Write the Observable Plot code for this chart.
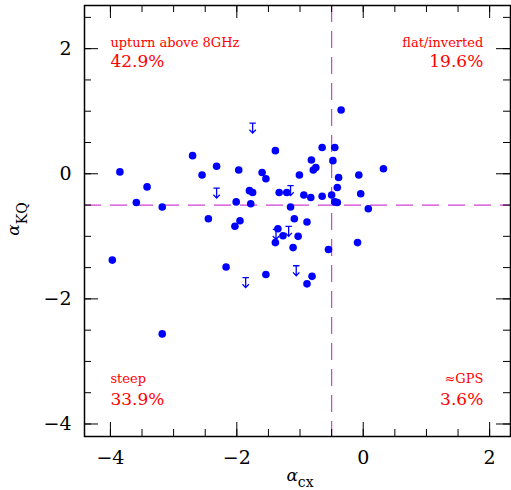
<!DOCTYPE html>
<html>
<head>
<meta charset="utf-8">
<script src="https://cdn.jsdelivr.net/npm/d3@7"></script>
<script src="https://cdn.jsdelivr.net/npm/@observablehq/plot@0.6"></script>
<style>
  html, body { margin: 0; padding: 0; background: #fff; }
</style>
</head>
<body>
<div id="chart"></div>
<script>
// Detected sources: alpha_cx (x) vs alpha_KQ (y)
const alphaCX = [
  -3.85, -3.42, -3.59, -3.18, -3.97, -2.70, -2.55, -2.32, -2.45, -2.03,
  -1.95, -1.97, -2.01, -1.78, -1.80, -1.75, -1.60, -1.54, -1.39, -1.33,
  -1.21, -1.15, -1.09, -1.01, -2.17, -1.54, -1.35, -1.39, -1.27, -1.11,
  -1.03, -3.18,
  -0.35, -0.65, -0.45, -0.82, -0.48, -0.79, -0.75, -0.39, -0.07, 0.32,
  -0.41, -0.04, -0.94, -0.83, -0.65, -0.50, -0.45, -0.41, 0.08, -0.89,
  -0.55, -0.09, -0.81, -0.89
];
const alphaKQ = [
  0.03, -0.21, -0.46, -0.53, -1.38, 0.29, -0.02, 0.12, -0.72, -0.84,
  -0.75, 0.06, -0.45, -0.48, -0.27, -0.30, 0.02, -0.08, 0.37, -0.30,
  -0.30, -0.53, -0.72, -0.02, -1.49, -1.61, -0.88, -1.10, -0.99, -1.18,
  -1.00, -2.56,
  1.02, 0.42, 0.42, 0.22, 0.21, 0.06, 0.10, -0.06, -0.02, 0.08,
  -0.22, -0.32, -0.34, -0.38, -0.36, -0.34, -0.45, -0.46, -0.56, -0.77,
  -1.21, -1.10, -1.64, -1.76
];

// Upper limits in alpha_KQ
const limitCX = [-2.32, -1.75, -1.15, -1.38, -1.18, -1.86, -1.06];
const limitKQ = [-0.31, 0.73, -0.27, -0.97, -0.92, -1.74, -1.55];

// Dividing thresholds
const thresholdCX = [-0.5];
const thresholdKQ = [-0.5];

// Quadrant annotations
const quadNames = ["upturn above 8GHz", "flat/inverted", "steep", "\u2248GPS"];
const quadPercents = ["42.9%", "19.6%", "33.9%", "3.6%"];

// Axis ticks
const majorTicksX = [-4, -2, 0, 2];
const minorTicksX = [-4.0, -3.5, -3.0, -2.5, -2.0, -1.5, -1.0, -0.5, 0, 0.5, 1.0, 1.5, 2.0];
const majorTicksY = [-4, -2, 0, 2];
const minorTicksY = [-4.0, -3.5, -3.0, -2.5, -2.0, -1.5, -1.0, -0.5, 0, 0.5, 1.0, 1.5, 2.0, 2.5];

const points = alphaCX.map((x, i) => ({x, y: alphaKQ[i]}));
const limits = limitCX.map((x, i) => ({x, y: limitKQ[i]}));

const W = 511, H = 490;
const mL = 84, mR = 1, mT = 5, mB = 54;
const pw = W - mL - mR, ph = H - mT - mB;

const arrowSymbol = {
  draw(ctx) {
    ctx.moveTo(-3.2, -5); ctx.lineTo(3.2, -5);
    ctx.moveTo(0, -5); ctx.lineTo(0, 5);
    ctx.moveTo(-3.2, 1.6); ctx.lineTo(0, 5); ctx.lineTo(3.2, 1.6);
  }
};

const serif = "DejaVu Serif";
const lineColor = "#d040d0";
const fmt = d => d < 0 ? "\u2212" + (-d) : String(d);

const plot = Plot.plot({
  width: W, height: H,
  marginLeft: mL, marginRight: mR, marginTop: mT, marginBottom: mB,
  style: {fontFamily: serif, background: "white"},
  x: {domain: [-4.41, 2.33], axis: null},
  y: {domain: [-4.2, 2.69], axis: null},
  marks: [
    // thresholds
    Plot.ruleX(thresholdCX, {stroke: lineColor, strokeWidth: 1.2, strokeDasharray: "17,9"}),
    Plot.ruleY(thresholdKQ, {stroke: lineColor, strokeWidth: 1.2, strokeDasharray: "17,9"}),
    // ticks bottom/top
    Plot.tickX(minorTicksX, {x: d => d, insetTop: ph - 7, stroke: "black"}),
    Plot.tickX(minorTicksX, {x: d => d, insetBottom: ph - 7, stroke: "black"}),
    Plot.tickX(majorTicksX, {x: d => d, insetTop: ph - 14, stroke: "black"}),
    Plot.tickX(majorTicksX, {x: d => d, insetBottom: ph - 13, stroke: "black"}),
    // ticks left/right
    Plot.tickY(minorTicksY, {y: d => d, insetRight: pw - 7, stroke: "black"}),
    Plot.tickY(minorTicksY, {y: d => d, insetLeft: pw - 7, stroke: "black"}),
    Plot.tickY(majorTicksY, {y: d => d, insetRight: pw - 14, stroke: "black"}),
    Plot.tickY(majorTicksY, {y: d => d, insetLeft: pw - 14, stroke: "black"}),
    // tick labels
    Plot.axisX({anchor: "bottom", ticks: majorTicksX, tickFormat: fmt, tickSize: 0, tickPadding: 14, fontSize: 19, label: null}),
    Plot.axisY({anchor: "left", ticks: majorTicksY, tickFormat: fmt, tickSize: 0, tickPadding: 13, fontSize: 19, label: null}),
    // data
    Plot.dot(points, {x: "x", y: "y", r: 3.8, fill: "#0000ff", stroke: "none"}),
    Plot.dot(limits, {x: "x", y: "y", symbol: arrowSymbol, r: 5, stroke: "#0000ff", fill: "none", strokeWidth: 1.3}),
    // quadrant annotations
    Plot.text([quadNames[0]], {x: () => -4, y: () => 2.03, text: d => d, textAnchor: "start", lineAnchor: "bottom", fill: "#ff0000", fontSize: 13}),
    Plot.text([quadPercents[0]], {x: () => -4, y: () => 1.70, text: d => d, textAnchor: "start", lineAnchor: "bottom", fill: "#ff0000", fontSize: 17}),
    Plot.text([quadNames[1]], {x: () => 1.9, y: () => 2.03, text: d => d, textAnchor: "end", lineAnchor: "bottom", fill: "#ff0000", fontSize: 13}),
    Plot.text([quadPercents[1]], {x: () => 1.9, y: () => 1.70, text: d => d, textAnchor: "end", lineAnchor: "bottom", fill: "#ff0000", fontSize: 17}),
    Plot.text([quadNames[2]], {x: () => -4, y: () => -3.34, text: d => d, textAnchor: "start", lineAnchor: "bottom", fill: "#ff0000", fontSize: 13}),
    Plot.text([quadPercents[2]], {x: () => -4, y: () => -3.70, text: d => d, textAnchor: "start", lineAnchor: "bottom", fill: "#ff0000", fontSize: 17}),
    Plot.text([quadNames[3]], {x: () => 1.9, y: () => -3.34, text: d => d, textAnchor: "end", lineAnchor: "bottom", fill: "#ff0000", fontSize: 13}),
    Plot.text([quadPercents[3]], {x: () => 1.9, y: () => -3.70, text: d => d, textAnchor: "end", lineAnchor: "bottom", fill: "#ff0000", fontSize: 17}),
    Plot.frame({stroke: "black", strokeWidth: 1.5})
  ]
});

const svg = d3.select(plot);
// x-axis label: alpha_cx
const xl = svg.append("text")
  .attr("x", 300).attr("y", 481)
  .attr("text-anchor", "middle")
  .attr("font-family", serif).attr("font-size", 17).attr("fill", "black");
xl.append("tspan").attr("font-style", "italic").text("\u03b1");
xl.append("tspan").attr("dy", 6).attr("font-size", 14).text("cx");
// y-axis label: alpha_KQ
const yl = svg.append("text")
  .attr("transform", "translate(19,219) rotate(-90)")
  .attr("text-anchor", "middle")
  .attr("font-family", serif).attr("font-size", 17).attr("fill", "black");
yl.append("tspan").attr("font-style", "italic").text("\u03b1");
yl.append("tspan").attr("dy", 8).attr("font-size", 14).text("KQ");

document.getElementById("chart").appendChild(plot);
</script>
</body>
</html>
